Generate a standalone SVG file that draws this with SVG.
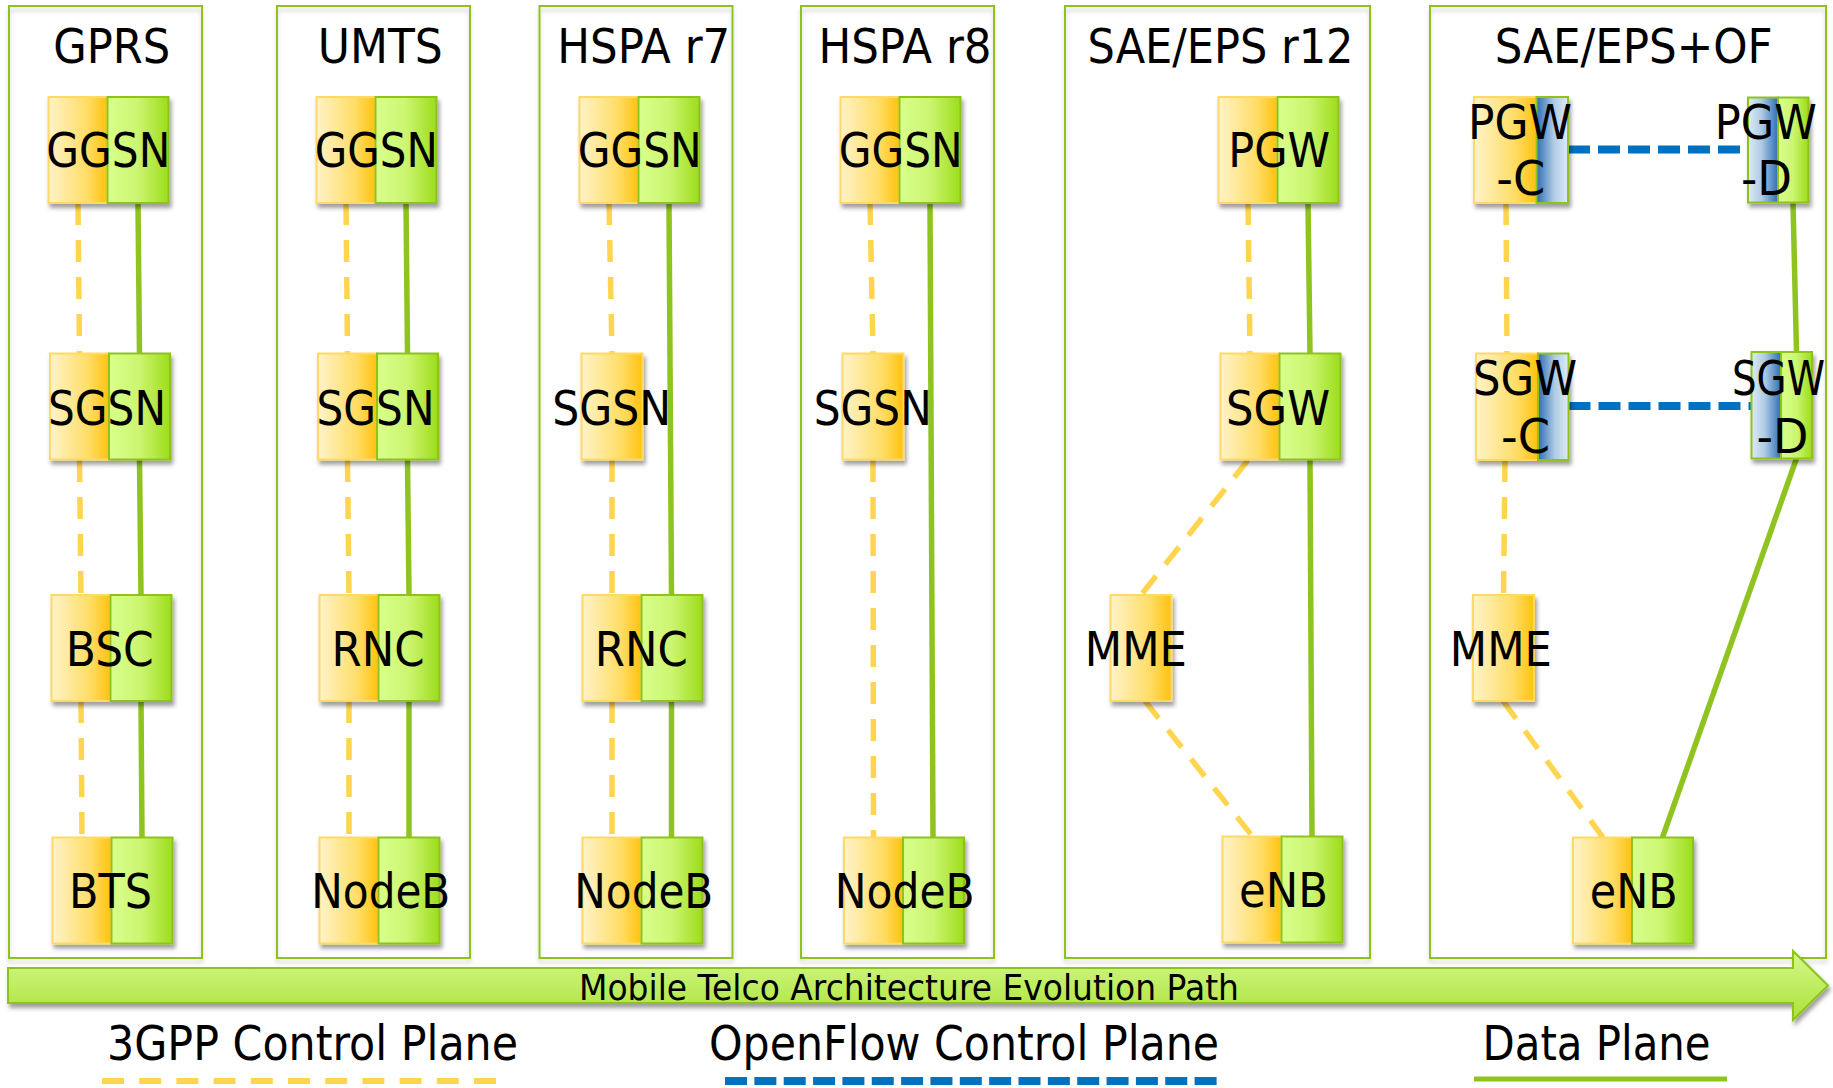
<svg xmlns="http://www.w3.org/2000/svg" width="1833" height="1088" viewBox="0 0 1833 1088">
  <defs>
    <linearGradient id="gy" x1="0" y1="0" x2="1" y2="0">
      <stop offset="0" stop-color="#FFF3C9"/>
      <stop offset="0.65" stop-color="#FFDD66"/>
      <stop offset="1" stop-color="#FFC20E"/>
    </linearGradient>
    <linearGradient id="gg" x1="0" y1="0" x2="1" y2="0">
      <stop offset="0" stop-color="#D9FF8C"/>
      <stop offset="0.5" stop-color="#CCF570"/>
      <stop offset="1" stop-color="#9CDD1A"/>
    </linearGradient>
    <linearGradient id="gbc" x1="0" y1="0" x2="1" y2="0">
      <stop offset="0" stop-color="#2E6DB4"/>
      <stop offset="0.55" stop-color="#AFCBE5"/>
      <stop offset="1" stop-color="#DDEBF4"/>
    </linearGradient>
    <linearGradient id="gbd" x1="0" y1="0" x2="1" y2="0">
      <stop offset="0" stop-color="#DDEBF4"/>
      <stop offset="0.45" stop-color="#AFCBE5"/>
      <stop offset="1" stop-color="#2E6DB4"/>
    </linearGradient>
    <linearGradient id="garrow" x1="0" y1="0" x2="0" y2="1">
      <stop offset="0" stop-color="#D3F88A"/>
      <stop offset="1" stop-color="#ABE33A"/>
    </linearGradient>
    <filter id="sh" x="-10%" y="-10%" width="130%" height="130%">
      <feDropShadow dx="2" dy="4" stdDeviation="2.2" flood-color="#000" flood-opacity="0.38"/>
    </filter>
    <filter id="psh" x="-5%" y="-5%" width="110%" height="110%">
      <feDropShadow dx="0" dy="4" stdDeviation="2" flood-color="#000" flood-opacity="0.18"/>
    </filter>
  </defs>
  <style>
    .panel { fill: none; stroke: #8FC31F; stroke-width: 2; }
    .y { fill: url(#gy); stroke: #FFD966; stroke-width: 2; }
    .g { fill: url(#gg); stroke: #8FC31F; stroke-width: 2; }
    .bc { fill: url(#gbc); stroke: #8FC31F; stroke-width: 2; }
    .bd { fill: url(#gbd); stroke: #8FC31F; stroke-width: 2; }
    .t { font-family: "DejaVu Sans", Verdana, sans-serif; font-size: 48px; text-anchor: middle; fill: #000; }
    .ta { font-family: "DejaVu Sans", Verdana, sans-serif; font-size: 36px; text-anchor: middle; fill: #000; }
    .cp { fill: none; stroke: #FFD54F; stroke-width: 5.5; stroke-dasharray: 22 15; }
    .dp { fill: none; stroke: #8FC31F; stroke-width: 5.5; }
    .of { fill: none; stroke: #0070C0; stroke-width: 8; stroke-dasharray: 22 8; }
  </style>
  <rect width="1833" height="1088" fill="#fff"/>

  <!-- generation panels -->
  <g id="panel-gprs">
    <rect class="panel" x="9" y="6" width="193" height="952" filter="url(#psh)"/>
    <text class="t" x="111.7" y="63.3" textLength="117" lengthAdjust="spacingAndGlyphs">GPRS</text>
  </g>
  <g id="panel-umts">
    <rect class="panel" x="277" y="6" width="193" height="952" filter="url(#psh)"/>
    <text class="t" x="380.3" y="63.3" textLength="125" lengthAdjust="spacingAndGlyphs">UMTS</text>
  </g>
  <g id="panel-hspa-r7">
    <rect class="panel" x="539.5" y="6" width="193" height="952" filter="url(#psh)"/>
    <text class="t" x="643.8" y="63.3" textLength="173" lengthAdjust="spacingAndGlyphs">HSPA r7</text>
  </g>
  <g id="panel-hspa-r8">
    <rect class="panel" x="801" y="6" width="193" height="952" filter="url(#psh)"/>
    <text class="t" x="905" y="63.3" textLength="173" lengthAdjust="spacingAndGlyphs">HSPA r8</text>
  </g>
  <g id="panel-sae-r12">
    <rect class="panel" x="1065" y="6" width="305" height="952" filter="url(#psh)"/>
    <text class="t" x="1220.5" y="63.3" textLength="266" lengthAdjust="spacingAndGlyphs">SAE/EPS r12</text>
  </g>
  <g id="panel-sae-of">
    <rect class="panel" x="1430" y="6" width="396" height="952" filter="url(#psh)"/>
    <text class="t" x="1633.7" y="63.3" textLength="278" lengthAdjust="spacingAndGlyphs">SAE/EPS+OF</text>
  </g>

  <!-- connectors: 3GPP control (dashed yellow), data plane (green), OpenFlow control (dashed blue) -->
  <g id="connectors">
    <line class="cp" x1="78" y1="203" x2="79.5" y2="353.5"/>
    <line class="cp" x1="79.5" y1="460" x2="81" y2="595"/>
    <line class="cp" x1="81" y1="701" x2="82" y2="837.5"/>
    <line class="dp" x1="138" y1="203" x2="139.5" y2="353.5"/>
    <line class="dp" x1="139.5" y1="460" x2="141" y2="595"/>
    <line class="dp" x1="141" y1="701" x2="142" y2="837.5"/>

    <line class="cp" x1="346" y1="203" x2="347.5" y2="353.5"/>
    <line class="cp" x1="347.5" y1="460" x2="349" y2="595"/>
    <line class="cp" x1="349" y1="701" x2="349" y2="837.5"/>
    <line class="dp" x1="406" y1="203" x2="407.5" y2="353.5"/>
    <line class="dp" x1="407.5" y1="460" x2="409" y2="595"/>
    <line class="dp" x1="409" y1="701" x2="409" y2="837.5"/>

    <line class="cp" x1="609" y1="203" x2="612" y2="353.5"/>
    <line class="cp" x1="612" y1="460" x2="612" y2="595"/>
    <line class="cp" x1="612" y1="701" x2="612" y2="837.5"/>
    <line class="dp" x1="669" y1="203" x2="671.5" y2="595"/>
    <line class="dp" x1="671.5" y1="701" x2="671.5" y2="837.5"/>

    <line class="cp" x1="870" y1="203" x2="873" y2="353.5"/>
    <line class="cp" x1="873" y1="460" x2="873.5" y2="837.5"/>
    <line class="dp" x1="930" y1="203" x2="933" y2="837.5"/>

    <line class="cp" x1="1248" y1="203" x2="1250" y2="353.5"/>
    <line class="cp" x1="1248" y1="460" x2="1141" y2="595"/>
    <line class="cp" x1="1145" y1="701" x2="1253" y2="837"/>
    <line class="dp" x1="1308" y1="203" x2="1310" y2="353.5"/>
    <line class="dp" x1="1310" y1="460" x2="1312" y2="836.5"/>

    <line class="cp" x1="1506" y1="203" x2="1507" y2="353.5"/>
    <line class="cp" x1="1505" y1="460" x2="1503.5" y2="595"/>
    <line class="cp" x1="1503" y1="701" x2="1603" y2="837.5"/>
    <line class="dp" x1="1793" y1="202.5" x2="1796.5" y2="352"/>
    <line class="dp" x1="1796.5" y1="458.5" x2="1662.5" y2="837.5"/>
    <line class="of" x1="1568" y1="149.5" x2="1748" y2="149.5"/>
    <line class="of" x1="1568.5" y1="406" x2="1751.5" y2="406"/>
  </g>

  <!-- GPRS nodes -->
  <g id="gprs-ggsn">
    <g filter="url(#sh)"><rect class="y" x="48.5" y="97" width="59" height="106"/><rect class="g" x="107.5" y="97" width="61" height="106"/></g>
    <text class="t" x="108.3" y="167" textLength="124" lengthAdjust="spacingAndGlyphs">GGSN</text>
  </g>
  <g id="gprs-sgsn">
    <g filter="url(#sh)"><rect class="y" x="50" y="353.5" width="59" height="106"/><rect class="g" x="109" y="353.5" width="61" height="106"/></g>
    <text class="t" x="107" y="425" textLength="118" lengthAdjust="spacingAndGlyphs">SGSN</text>
  </g>
  <g id="gprs-bsc">
    <g filter="url(#sh)"><rect class="y" x="51.5" y="595" width="59" height="106"/><rect class="g" x="110.5" y="595" width="61" height="106"/></g>
    <text class="t" x="109.8" y="666" textLength="88" lengthAdjust="spacingAndGlyphs">BSC</text>
  </g>
  <g id="gprs-bts">
    <g filter="url(#sh)"><rect class="y" x="52.5" y="837.5" width="59" height="106"/><rect class="g" x="111.5" y="837.5" width="61" height="106"/></g>
    <text class="t" x="110.5" y="908" textLength="83" lengthAdjust="spacingAndGlyphs">BTS</text>
  </g>

  <!-- UMTS nodes -->
  <g id="umts-ggsn">
    <g filter="url(#sh)"><rect class="y" x="316.5" y="97" width="59" height="106"/><rect class="g" x="375.5" y="97" width="61" height="106"/></g>
    <text class="t" x="376.3" y="167" textLength="123" lengthAdjust="spacingAndGlyphs">GGSN</text>
  </g>
  <g id="umts-sgsn">
    <g filter="url(#sh)"><rect class="y" x="318" y="353.5" width="59" height="106"/><rect class="g" x="377" y="353.5" width="61" height="106"/></g>
    <text class="t" x="375.5" y="425" textLength="118" lengthAdjust="spacingAndGlyphs">SGSN</text>
  </g>
  <g id="umts-rnc">
    <g filter="url(#sh)"><rect class="y" x="319.5" y="595" width="59" height="106"/><rect class="g" x="378.5" y="595" width="61" height="106"/></g>
    <text class="t" x="378" y="666" textLength="93" lengthAdjust="spacingAndGlyphs">RNC</text>
  </g>
  <g id="umts-nodeb">
    <g filter="url(#sh)"><rect class="y" x="319.5" y="837.5" width="59" height="106"/><rect class="g" x="378.5" y="837.5" width="61" height="106"/></g>
    <text class="t" x="380.8" y="908" textLength="139" lengthAdjust="spacingAndGlyphs">NodeB</text>
  </g>

  <!-- HSPA r7 nodes -->
  <g id="r7-ggsn">
    <g filter="url(#sh)"><rect class="y" x="579.5" y="97" width="59" height="106"/><rect class="g" x="638.5" y="97" width="61" height="106"/></g>
    <text class="t" x="639.7" y="167" textLength="124" lengthAdjust="spacingAndGlyphs">GGSN</text>
  </g>
  <g id="r7-sgsn">
    <g filter="url(#sh)"><rect class="y" x="581.5" y="353.5" width="61" height="106"/></g>
    <text class="t" x="611.7" y="425" textLength="119" lengthAdjust="spacingAndGlyphs">SGSN</text>
  </g>
  <g id="r7-rnc">
    <g filter="url(#sh)"><rect class="y" x="582.5" y="595" width="59" height="106"/><rect class="g" x="641.5" y="595" width="61" height="106"/></g>
    <text class="t" x="641.3" y="666" textLength="93" lengthAdjust="spacingAndGlyphs">RNC</text>
  </g>
  <g id="r7-nodeb">
    <g filter="url(#sh)"><rect class="y" x="582.5" y="837.5" width="59" height="106"/><rect class="g" x="641.5" y="837.5" width="61" height="106"/></g>
    <text class="t" x="643.8" y="908" textLength="139" lengthAdjust="spacingAndGlyphs">NodeB</text>
  </g>

  <!-- HSPA r8 nodes -->
  <g id="r8-ggsn">
    <g filter="url(#sh)"><rect class="y" x="840.5" y="97" width="59" height="106"/><rect class="g" x="899.5" y="97" width="61" height="106"/></g>
    <text class="t" x="900.7" y="167" textLength="124" lengthAdjust="spacingAndGlyphs">GGSN</text>
  </g>
  <g id="r8-sgsn">
    <g filter="url(#sh)"><rect class="y" x="842.5" y="353.5" width="61" height="106"/></g>
    <text class="t" x="872.8" y="425" textLength="118" lengthAdjust="spacingAndGlyphs">SGSN</text>
  </g>
  <g id="r8-nodeb">
    <g filter="url(#sh)"><rect class="y" x="844" y="837.5" width="59" height="106"/><rect class="g" x="903" y="837.5" width="61" height="106"/></g>
    <text class="t" x="904.7" y="908" textLength="140" lengthAdjust="spacingAndGlyphs">NodeB</text>
  </g>

  <!-- SAE/EPS r12 nodes -->
  <g id="r12-pgw">
    <g filter="url(#sh)"><rect class="y" x="1218.5" y="97" width="59" height="106"/><rect class="g" x="1277.5" y="97" width="61" height="106"/></g>
    <text class="t" x="1279.2" y="167" textLength="102" lengthAdjust="spacingAndGlyphs">PGW</text>
  </g>
  <g id="r12-sgw">
    <g filter="url(#sh)"><rect class="y" x="1220.5" y="353.5" width="59" height="106"/><rect class="g" x="1279.5" y="353.5" width="61" height="106"/></g>
    <text class="t" x="1278" y="425" textLength="104" lengthAdjust="spacingAndGlyphs">SGW</text>
  </g>
  <g id="r12-mme">
    <g filter="url(#sh)"><rect class="y" x="1110.5" y="595" width="61" height="106"/></g>
    <text class="t" x="1135.8" y="666" textLength="102" lengthAdjust="spacingAndGlyphs">MME</text>
  </g>
  <g id="r12-enb">
    <g filter="url(#sh)"><rect class="y" x="1222.5" y="836.5" width="59" height="106"/><rect class="g" x="1281.5" y="836.5" width="61" height="106"/></g>
    <text class="t" x="1283.5" y="907" textLength="89" lengthAdjust="spacingAndGlyphs">eNB</text>
  </g>

  <!-- SAE/EPS + OpenFlow nodes -->
  <g id="of-pgw-c">
    <g filter="url(#sh)"><rect class="y" x="1474" y="97" width="62.5" height="106"/><rect class="bc" x="1536.5" y="97" width="31.5" height="106"/></g>
    <text class="t" x="1520" y="138.5" textLength="104" lengthAdjust="spacingAndGlyphs">PGW</text>
    <text class="t" x="1520.8" y="195" textLength="49" lengthAdjust="spacingAndGlyphs">-C</text>
  </g>
  <g id="of-pgw-d">
    <g filter="url(#sh)"><rect class="bd" x="1748" y="97.5" width="30" height="105"/><rect class="g" x="1778" y="97.5" width="30.5" height="105"/></g>
    <text class="t" x="1765.8" y="138.5" textLength="102" lengthAdjust="spacingAndGlyphs">PGW</text>
    <text class="t" x="1766.5" y="195" textLength="51" lengthAdjust="spacingAndGlyphs">-D</text>
  </g>
  <g id="of-sgw-c">
    <g filter="url(#sh)"><rect class="y" x="1476" y="353.5" width="62" height="106.5"/><rect class="bc" x="1538" y="353.5" width="30.5" height="106.5"/></g>
    <text class="t" x="1525" y="395" textLength="104" lengthAdjust="spacingAndGlyphs">SGW</text>
    <text class="t" x="1525.5" y="453" textLength="49" lengthAdjust="spacingAndGlyphs">-C</text>
  </g>
  <g id="of-sgw-d">
    <g filter="url(#sh)"><rect class="bd" x="1751.5" y="352" width="29.5" height="106.5"/><rect class="g" x="1781" y="352" width="31" height="106.5"/></g>
    <text class="t" x="1778.5" y="395" textLength="93" lengthAdjust="spacingAndGlyphs">SGW</text>
    <text class="t" x="1782.5" y="453" textLength="52" lengthAdjust="spacingAndGlyphs">-D</text>
  </g>
  <g id="of-mme">
    <g filter="url(#sh)"><rect class="y" x="1473" y="595" width="61" height="106"/></g>
    <text class="t" x="1500.8" y="666" textLength="102" lengthAdjust="spacingAndGlyphs">MME</text>
  </g>
  <g id="of-enb">
    <g filter="url(#sh)"><rect class="y" x="1573" y="837.5" width="59" height="106"/><rect class="g" x="1632" y="837.5" width="61" height="106"/></g>
    <text class="t" x="1633.8" y="908" textLength="88" lengthAdjust="spacingAndGlyphs">eNB</text>
  </g>

  <!-- evolution arrow -->
  <g id="evolution-arrow">
    <path d="M8,968 L1793,968 L1793,951 L1828,985.5 L1793,1020 L1793,1003 L8,1003 Z" fill="url(#garrow)" stroke="#8FC31F" stroke-width="2" stroke-linejoin="miter" filter="url(#sh)"/>
    <text class="ta" x="909" y="1000" textLength="660" lengthAdjust="spacingAndGlyphs">Mobile Telco Architecture Evolution Path</text>
  </g>

  <!-- legend -->
  <g id="legend">
    <text class="t" x="312.5" y="1060" textLength="411" lengthAdjust="spacingAndGlyphs">3GPP Control Plane</text>
    <line x1="102" y1="1081" x2="496" y2="1081" stroke="#FFD54F" stroke-width="6" stroke-dasharray="22 15.2"/>
    <text class="t" x="964" y="1060" textLength="510" lengthAdjust="spacingAndGlyphs">OpenFlow Control Plane</text>
    <line x1="725" y1="1081" x2="1217" y2="1081" stroke="#0070C0" stroke-width="8" stroke-dasharray="22 7.35"/>
    <text class="t" x="1596.6" y="1060" textLength="228" lengthAdjust="spacingAndGlyphs">Data Plane</text>
    <line x1="1474" y1="1079" x2="1727" y2="1079" stroke="#8FC31F" stroke-width="5"/>
  </g>
</svg>
